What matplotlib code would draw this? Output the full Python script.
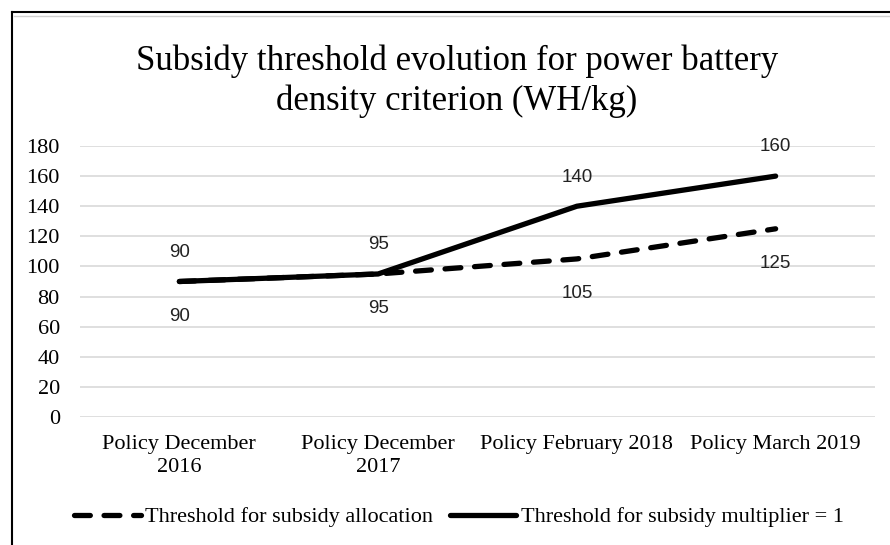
import matplotlib.pyplot as plt
from matplotlib.lines import Line2D

# chart data
categories = ["Policy December\n2016", "Policy December\n2017",
              "Policy February 2018", "Policy March 2019"]
allocation = [90, 95, 105, 125]
multiplier = [90, 95, 140, 160]
series_names = ["Threshold for subsidy allocation",
                "Threshold for subsidy multiplier = 1"]
title = "Subsidy threshold evolution for power battery\ndensity criterion (WH/kg)"

serif = ["Liberation Serif", "DejaVu Serif"]
sans = ["Liberation Sans", "DejaVu Sans"]
dash = (0, (3.0, 2.6))

fig = plt.figure(figsize=(8.9, 5.45), dpi=100)
ax = fig.add_axes([80 / 890, 1 - 417 / 545, 795 / 890, 271 / 545])

x = list(range(len(categories)))
ax.plot(x, allocation, color="black", lw=3.8, ls=dash,
        solid_capstyle="round", dash_capstyle="round", zorder=3)
ax.plot(x, multiplier, color="black", lw=3.8, solid_capstyle="round", zorder=4)

# data labels: solid above, dashed below
for xi, v in zip(x, multiplier):
    ax.annotate(str(v), (xi, v), xytext=(0, 21), textcoords="offset points",
                ha="center", va="center", fontsize=13.5, family=sans, color="#222222")
for xi, v in zip(x, allocation):
    ax.annotate(str(v), (xi, v), xytext=(0, -25), textcoords="offset points",
                ha="center", va="center", fontsize=13.5, family=sans, color="#222222")

ax.set_xlim(-0.5, 3.5)
ax.set_ylim(0, 180)
ax.set_yticks(range(0, 181, 20))
ax.set_xticks(x)
ax.set_xticklabels(categories, family=serif, fontsize=16, linespacing=1.25)
for lab in ax.get_yticklabels():
    lab.set_family(serif)
    lab.set_fontsize(16)
ax.tick_params(length=0)
ax.tick_params(axis="x", pad=13)
ax.tick_params(axis="y", pad=14.5)
ax.grid(axis="y", color="#d9d9d9", lw=1.2)
ax.set_axisbelow(True)
for s in ax.spines.values():
    s.set_visible(False)

fig.text(457 / 890, 1 - 81 / 545, title, ha="center", va="center",
         family=serif, fontsize=25, linespacing=1.25)

handles = [Line2D([], [], color="black", lw=3.8, ls=dash, dash_capstyle="round"),
           Line2D([], [], color="black", lw=3.8, solid_capstyle="round")]
fig.legend(handles, series_names, loc="center", bbox_to_anchor=(459 / 890, 1 - 517 / 545),
           ncol=2, frameon=False, handlelength=3.0, handletextpad=0.2,
           columnspacing=0.75, prop={"family": serif, "size": 16})

# clipped frame of the original chart (left and top edges)
fig.add_artist(Line2D([12 / 890, 12 / 890], [0, 1 - 12 / 545], color="black", lw=1.5,
                      transform=fig.transFigure))
fig.add_artist(Line2D([12 / 890, 1], [1 - 12 / 545, 1 - 12 / 545], color="black", lw=1.5,
                      transform=fig.transFigure))
fig.add_artist(Line2D([14 / 890, 1], [1 - 16 / 545, 1 - 16 / 545], color="#d0d0d0", lw=1,
                      transform=fig.transFigure))

fig.savefig("out.png", dpi=100)
